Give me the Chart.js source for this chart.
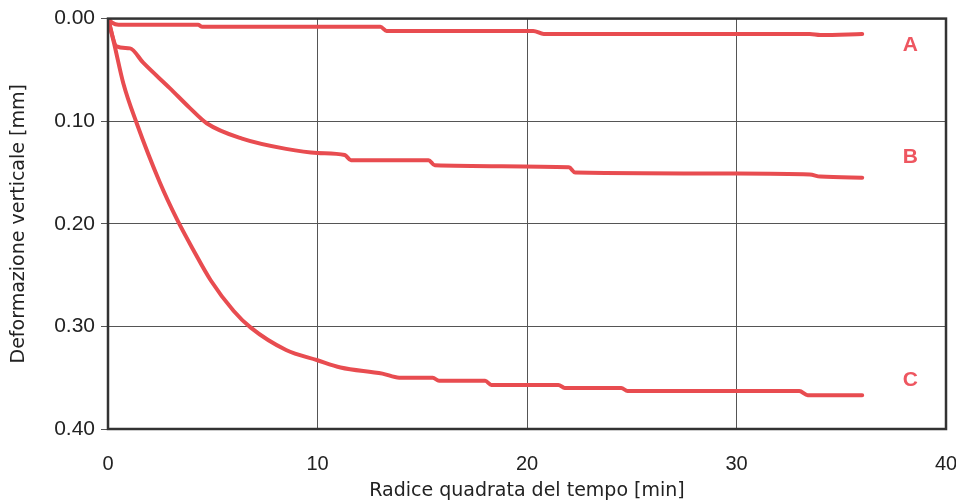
<!DOCTYPE html>
<html>
<head>
<meta charset="utf-8">
<script src="https://cdn.jsdelivr.net/npm/chart.js@4.4.1/dist/chart.umd.min.js"></script>
<style>
  html, body { margin: 0; padding: 0; background: #fff; }
  #wrap { width: 956px; height: 502px; }
</style>
</head>
<body>
<div id="wrap"><canvas id="chart" width="956" height="502"></canvas></div>
<script>
// Curve data (x = sqrt of time, y = deformation in mm)
const curveNames = ['A', 'B', 'C'];

const timeA = [0, 0.2, 0.5, 4.3, 4.5, 13.0, 13.3, 20.3, 20.8, 33.5, 34.0, 36.0];
const defA  = [0, 0.004, 0.006, 0.006, 0.008, 0.008, 0.012, 0.012, 0.015, 0.015, 0.016, 0.015];

const timeB = [0, 0.41, 1.05, 1.68, 2.96, 3.9, 4.71, 6.4, 8.5, 10.0, 11.3, 11.6, 15.3, 15.6, 22.0, 22.3, 30.0, 33.5, 34.0, 36.0];
const defB  = [0, 0.027, 0.029, 0.043, 0.068, 0.087, 0.102, 0.117, 0.127, 0.131, 0.133, 0.138, 0.138, 0.143, 0.145, 0.150, 0.151, 0.152, 0.154, 0.155];

const timeC = [0, 0.3, 0.73, 1.37, 2.48, 3.3, 4.06, 4.9, 6.0, 6.8, 8.5, 10.0, 11.1, 13.1, 13.9, 15.5, 15.8, 18.0, 18.3, 21.5, 21.8, 24.5, 24.8, 33.0, 33.4, 36.0];
const defC  = [0, 0.025, 0.063, 0.102, 0.160, 0.196, 0.225, 0.255, 0.285, 0.301, 0.323, 0.333, 0.340, 0.346, 0.350, 0.350, 0.353, 0.353, 0.357, 0.357, 0.360, 0.360, 0.363, 0.363, 0.367, 0.367];

// where the curve letters sit (data units)
const labelX = [38.3, 38.3, 38.3];
const labelY = [0.026, 0.135, 0.352];

const xTicks = [0, 10, 20, 30, 40];
const yTicks = [0.0, 0.1, 0.2, 0.3, 0.4];

const lineColor = 'rgb(232, 76, 80)';
const labelColor = 'rgb(238, 86, 96)';
const tickFont = '"Liberation Sans", Arial, sans-serif';
const titleFont = '"DejaVu Sans", sans-serif';

function toPoints(xs, ys) {
  return xs.map((x, i) => ({ x: x, y: ys[i] }));
}

const series = [toPoints(timeA, defA), toPoints(timeB, defB), toPoints(timeC, defC)];

// frame + curve letters
const framePlugin = {
  id: 'frame',
  afterDatasetsDraw(chart) {
    const { ctx, chartArea, scales } = chart;
    ctx.save();
    ctx.strokeStyle = '#333';
    ctx.lineWidth = 2.5;
    ctx.strokeRect(chartArea.left, chartArea.top, chartArea.right - chartArea.left, chartArea.bottom - chartArea.top);
    ctx.fillStyle = labelColor;
    ctx.font = 'bold 21px "Liberation Sans", Arial, sans-serif';
    ctx.textAlign = 'center';
    ctx.textBaseline = 'middle';
    curveNames.forEach((n, i) => {
      ctx.fillText(n, scales.x.getPixelForValue(labelX[i]), scales.y.getPixelForValue(labelY[i]));
    });
    ctx.restore();
  }
};

const ctx = document.getElementById('chart').getContext('2d');
new Chart(ctx, {
  type: 'scatter',
  data: {
    datasets: series.map((pts, i) => ({
      label: curveNames[i],
      data: pts,
      showLine: true,
      borderColor: lineColor,
      borderWidth: 4,
      pointRadius: 0,
      cubicInterpolationMode: 'monotone',
      borderCapStyle: 'round',
      borderJoinStyle: 'round'
    }))
  },
  options: {
    responsive: false,
    animation: false,
    layout: { padding: { top: 17, right: 10, left: 8, bottom: 0 } },
    plugins: { legend: { display: false }, tooltip: { enabled: false } },
    scales: {
      x: {
        type: 'linear',
        min: 0,
        max: 40,
        afterBuildTicks: s => { s.ticks = xTicks.map(v => ({ value: v })); },
        afterFit: s => { s.height = 73; s.paddingRight = 0; },
        grid: { color: '#555', lineWidth: 1, tickLength: 0, drawTicks: false },
        border: { display: false },
        ticks: {
          color: '#222',
          padding: 23,
          font: { family: tickFont, size: 20 }
        },
        title: {
          display: true,
          text: 'Radice quadrata del tempo [min]',
          color: '#222',
          padding: { top: 0, bottom: 0 },
          font: { family: titleFont, size: 19 }
        }
      },
      y: {
        type: 'linear',
        reverse: true,
        min: 0,
        max: 0.4,
        afterBuildTicks: s => { s.ticks = yTicks.map(v => ({ value: v })); },
        afterFit: s => { s.width = 100; },
        grid: { color: '#555', lineWidth: 1, tickLength: 7 },
        border: { display: false },
        ticks: {
          color: '#222',
          padding: 6,
          callback: v => v.toFixed(2),
          font: { family: tickFont, size: 21 }
        },
        title: {
          display: true,
          text: 'Deformazione verticale [mm]',
          color: '#222',
          padding: { top: 0, bottom: 0 },
          font: { family: titleFont, size: 19 }
        }
      }
    }
  },
  plugins: [framePlugin]
});
</script>
</body>
</html>
